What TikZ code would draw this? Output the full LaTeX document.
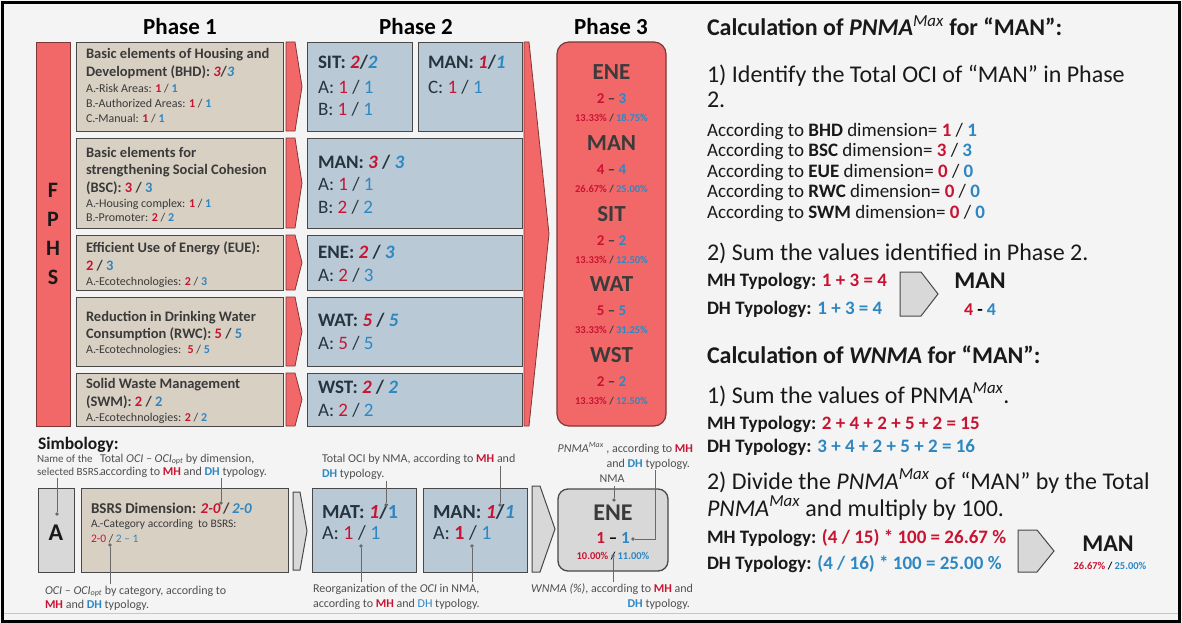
\documentclass[tikz,border=0pt]{standalone}
\usepackage{fontspec}
\setmainfont{Carlito}
\usetikzlibrary{calc}

\definecolor{paper}{RGB}{244,244,244}
\definecolor{redfill}{RGB}{242,104,104}
\definecolor{redline}{RGB}{125,55,55}
\definecolor{tanfill}{RGB}{217,208,196}
\definecolor{bluefill}{RGB}{185,202,214}
\definecolor{boxline}{RGB}{72,72,72}
\definecolor{grayfill}{RGB}{216,216,216}
\definecolor{mhred}{RGB}{200,20,50}
\definecolor{dhblue}{RGB}{45,135,195}
\definecolor{inkone}{RGB}{58,58,58}
\definecolor{inktwo}{RGB}{38,52,62}
\definecolor{inkthree}{RGB}{25,25,25}
\definecolor{leadline}{RGB}{105,105,105}
\definecolor{notegray}{RGB}{80,80,80}

\newcommand{\mhc}[1]{\textcolor{mhred}{#1}}
\newcommand{\dhc}[1]{\textcolor{dhblue}{#1}}
\newcommand{\fsz}[1]{\fontsize{#1}{#1}\selectfont}
\newcommand{\pmax}{\textit{PNMA}\textsuperscript{\normalfont\itshape Max}}
\newcommand{\subpair}[2]{\textbf{\mhc{#1}} / \textbf{\dhc{#2}}}
\newcommand{\plainpair}[2]{\mhc{#1} / \dhc{#2}}
\newcommand{\ocigap}{\textit{OCI – OCI}\textsubscript{\textit{opt}}}

\tikzset{
  tx/.style={inner sep=0pt, outer sep=0pt, anchor=base west},
  txc/.style={inner sep=0pt, outer sep=0pt, anchor=base},
  txe/.style={inner sep=0pt, outer sep=0pt, anchor=base east},
  boxone/.style={draw=boxline, fill=tanfill, line width=1.3pt, anchor=north west, inner sep=0pt},
  boxtwo/.style={draw=boxline, fill=bluefill, line width=1.3pt, anchor=north west, inner sep=0pt},
  boxgray/.style={draw=boxline, fill=grayfill, line width=1.3pt, anchor=north west, inner sep=0pt},
  redshape/.style={draw=redline, fill=redfill, line width=0.8pt},
  grayshape/.style={draw=boxline, fill=grayfill, line width=1pt},
  leader/.style={draw=leadline, line width=0.7pt},
  ldot/.style={circle, fill=leadline, inner sep=0pt, minimum size=3.6pt},
  phasehead/.style={txc, font=\fsz{23}\bfseries, text=black},
  fphs/.style={txc, font=\fsz{22}\bfseries, text=inkthree},
  p1title/.style={tx, font=\fsz{14.5}\bfseries, text=inkone},
  p1item/.style={tx, font=\fsz{12}, text=inkone},
  p2title/.style={tx, font=\fsz{19}\bfseries, text=inktwo},
  p2item/.style={tx, font=\fsz{19}, text=inktwo},
  p3name/.style={txc, font=\fsz{23}\bfseries, text=inkthree!85},
  p3val/.style={txc, font=\fsz{15}\bfseries, text=inkone},
  p3pct/.style={txc, font=\fsz{10.5}\bfseries, text=inkone},
  rhead/.style={tx, font=\fsz{24}\bfseries, text=inkthree},
  rstep/.style={tx, font=\fsz{24}, text=inkthree},
  rline/.style={tx, font=\fsz{19}, text=inkthree},
  rtyp/.style={tx, font=\fsz{19}\bfseries, text=inkthree},
  note/.style={tx, font=\fsz{12}, text=notegray},
  notee/.style={txe, font=\fsz{12}, text=notegray},
}

\begin{document}
\begin{tikzpicture}[x=1pt, y=-1pt]
\useasboundingbox (0,0) rectangle (1182,623);

% paper and frame
\fill[paper] (0,0) rectangle (1182,623);
\draw[gray!45, line width=1pt] (4,613) -- (1178,613);
\draw[black, line width=3pt] (2.5,2.5) rectangle (1179.5,621.5);

% ---------------- phase headings ----------------
\node[phasehead] (hp1) at (180,34.5) {Phase 1};
\node[phasehead] (hp2) at (416,34.5) {Phase 2};
\node[phasehead] (hp3) at (611,34.5) {Phase 3};

% ---------------- FPHS bar ----------------
\node[draw=redline, fill=redfill, line width=0.8pt, anchor=north west, inner sep=0pt,
      minimum width=34pt, minimum height=384pt] (fbar) at (36,42) {};
\node[fphs] (fl1) at (53,197) {F};
\node[fphs] (fl2) at (53,226) {P};
\node[fphs] (fl3) at (53,255) {H};
\node[fphs] (fl4) at (53,284) {S};

% ---------------- phase 1 boxes ----------------
\node[boxone, minimum width=207pt, minimum height=89pt] (bhd) at (76,42) {};
\node[boxone, minimum width=207pt, minimum height=90pt] (bsc) at (76,138) {};
\node[boxone, minimum width=207pt, minimum height=55pt] (eue) at (76,235) {};
\node[boxone, minimum width=207pt, minimum height=69pt] (rwc) at (76,297) {};
\node[boxone, minimum width=207pt, minimum height=53pt] (swm) at (76,373) {};

\node[p1title] (bhdA) at (86,59) {Basic elements of Housing and};
\node[p1title] (bhdB) at (86,77) {Development (BHD): \mhc{\textit{3}}/\dhc{\textit{3}}};
\node[p1item] (bhdC) at (86,93) {A.-Risk Areas: \subpair{1}{1}};
\node[p1item] (bhdD) at (86,108) {B.-Authorized Areas: \subpair{1}{1}};
\node[p1item] (bhdE) at (86,123) {C.-Manual: \subpair{1}{1}};

\node[p1title] (bscA) at (86,157) {Basic elements for};
\node[p1title] (bscB) at (86,174) {strengthening Social Cohesion};
\node[p1title] (bscC) at (86,192) {(BSC): \mhc{3} / \dhc{3}};
\node[p1item] (bscD) at (86,207) {A.-Housing complex: \subpair{1}{1}};
\node[p1item] (bscE) at (86,221) {B.-Promoter: \subpair{2}{2}};

\node[p1title] (eueA) at (86,252) {Efficient Use of Energy (EUE):};
\node[p1title] (eueB) at (86,270) {\mhc{2} / \dhc{3}};
\node[p1item] (eueC) at (86,285) {A.-Ecotechnologies: \subpair{2}{3}};

\node[p1title] (rwcA) at (86,321) {Reduction in Drinking Water};
\node[p1title] (rwcB) at (86,338) {Consumption (RWC): \mhc{5} / \dhc{5}};
\node[p1item] (rwcC) at (86,353) {A.-Ecotechnologies: \ \subpair{5}{5}};

\node[p1title] (swmA) at (86,388) {Solid Waste Management};
\node[p1title] (swmB) at (86,406) {(SWM): \mhc{2} / \dhc{2}};
\node[p1item] (swmC) at (86,421) {A.-Ecotechnologies: \subpair{2}{2}};

% red chevrons between phase 1 and phase 2
\foreach \yt/\yb in {42/131, 138/228, 235/290, 297/366, 373/426}{
  \draw[redshape] (286,\yt) -- (295,\yt) -- (302,{(\yt+\yb)/2}) -- (295,\yb) -- (286,\yb) -- cycle;
}

% ---------------- phase 2 boxes ----------------
\node[boxtwo, minimum width=105pt, minimum height=89pt] (sit) at (307,42) {};
\node[boxtwo, minimum width=104pt, minimum height=89pt] (mana) at (418,42) {};
\node[boxtwo, minimum width=215pt, minimum height=90pt] (manb) at (307,138) {};
\node[boxtwo, minimum width=215pt, minimum height=55pt] (ene) at (307,235) {};
\node[boxtwo, minimum width=215pt, minimum height=69pt] (wat) at (307,297) {};
\node[boxtwo, minimum width=215pt, minimum height=53pt] (wst) at (307,373) {};

\node[p2title] (sitA) at (318,69) {SIT: \mhc{\textit{2}}/\dhc{\textit{2}}};
\node[p2item] (sitB) at (318,94) {A: \plainpair{1}{1}};
\node[p2item] (sitC) at (318,116) {B: \plainpair{1}{1}};
\node[p2title] (manaA) at (428,69) {MAN: \mhc{\textit{1}}/\dhc{\textit{1}}};
\node[p2item] (manaB) at (428,94) {C: \plainpair{1}{1}};
\node[p2title] (manbA) at (318,168) {MAN: \mhc{\textit{3}} / \dhc{\textit{3}}};
\node[p2item] (manbB) at (318,190) {A: \plainpair{1}{1}};
\node[p2item] (manbC) at (318,213) {B: \plainpair{2}{2}};
\node[p2title] (eneA) at (318,258) {ENE: \mhc{\textit{2}} / \dhc{\textit{3}}};
\node[p2item] (eneB) at (318,281) {A: \plainpair{2}{3}};
\node[p2title] (watA) at (318,326) {WAT: \mhc{\textit{5}} / \dhc{\textit{5}}};
\node[p2item] (watB) at (318,349) {A: \plainpair{5}{5}};
\node[p2title] (wstA) at (318,393) {WST: \mhc{\textit{2}} / \dhc{\textit{2}}};
\node[p2item] (wstB) at (318,416) {A: \plainpair{2}{2}};

% large red chevron between phase 2 and phase 3
\draw[redshape] (524,42) -- (529,42) -- (549,234) -- (529,426) -- (524,426) -- cycle;

% ---------------- phase 3 box ----------------
\draw[redshape, line width=1.2pt, rounded corners=12pt] (557,42) rectangle (666,426);
\foreach \nm/\a/\b/\pa/\pb/\c in {ENE/2/3/13.33/18.75/72, MAN/4/4/26.67/25.00/143,
    SIT/2/2/13.33/12.50/214, WAT/5/5/33.33/31.25/284, WST/2/2/13.33/12.50/355}{
  \node[p3name] (n\nm) at (611.5,\c+7.5) {\nm};
  \node[p3val] (v\nm) at (611.5,\c+31) {\mhc{\a} – \dhc{\b}};
  \node[p3pct] (p\nm) at (611.5,\c+49.5) {\mhc{\pa\%} / \dhc{\pb\%}};
}

% ---------------- right panel: PNMA ----------------
\node[rhead] (ra) at (707,36) {Calculation of \textit{PNMA}\textsuperscript{\normalfont\itshape Max} for “MAN”:};
\node[rstep] (rb) at (707,83) {1) Identify the Total OCI of “MAN” in Phase};
\node[rstep] (rc) at (707,108) {2.};
\node[rline] (rd1) at (707,136) {According to \textbf{BHD} dimension= \subpair{1}{1}};
\node[rline] (rd2) at (707,156.5) {According to \textbf{BSC} dimension= \subpair{3}{3}};
\node[rline] (rd3) at (707,177) {According to \textbf{EUE} dimension= \subpair{0}{0}};
\node[rline] (rd4) at (707,197.5) {According to \textbf{RWC} dimension= \subpair{0}{0}};
\node[rline] (rd5) at (707,218) {According to \textbf{SWM} dimension= \subpair{0}{0}};
\node[rstep] (re) at (707,260) {2) Sum the values identified in Phase 2.};
\node[rtyp] (rf1) at (707,286) {MH Typology: \mhc{1 + 3 = 4}};
\node[rtyp] (rf2) at (707,314) {DH Typology: \dhc{1 + 3 = 4}};
\draw[grayshape] (900,272) -- (921,272) -- (938,294) -- (921,316) -- (900,316) -- cycle;
\node[txc, font=\fsz{24}\bfseries, text=inkthree] (rg1) at (980,288) {MAN};
\node[txc, font=\fsz{18}\bfseries] (rg2) at (980,315) {\mhc{4} - \dhc{4}};

% ---------------- right panel: WNMA ----------------
\node[rhead] (rh) at (707,363) {Calculation of \textit{WNMA} for “MAN”:};
\node[rstep] (ri) at (707,403) {1) Sum the values of PNMA\textsuperscript{\itshape Max}.};
\node[rtyp] (rj1) at (707,429) {MH Typology: \mhc{2 + 4 + 2 + 5 + 2 = 15}};
\node[rtyp] (rj2) at (707,452) {DH Typology: \dhc{3 + 4 + 2 + 5 + 2 = 16}};
\node[rstep] (rk1) at (707,489) {2) Divide the \pmax\ of “MAN” by the Total};
\node[rstep] (rk2) at (707,516) {\pmax\ and multiply by 100.};
\node[rtyp] (rl1) at (707,543) {MH Typology: \mhc{(4 / 15) * 100 = 26.67 \%}};
\node[rtyp] (rl2) at (707,569) {DH Typology: \dhc{(4 / 16) * 100 = 25.00 \%}};
\draw[grayshape] (1018,530) -- (1037,530) -- (1054,551) -- (1037,572) -- (1018,572) -- cycle;
\node[txc, font=\fsz{24}\bfseries, text=inkthree] (rm1) at (1108,551) {MAN};
\node[txc, font=\fsz{10.5}\bfseries] (rm2) at (1110,569) {\mhc{26.67\%} / \dhc{25.00\%}};

% ---------------- symbology ----------------
\node[tx, font=\fsz{17.5}\bfseries, text=inkthree] (sy) at (38,449) {Simbology:};
\node[note, font=\fsz{11}] (sn1) at (37,462) {Name of the};
\node[note, font=\fsz{11}] (sn2) at (37,475) {selected BSRS.};
\node[note] (sn3) at (100,462) {Total \ocigap\ by dimension,};
\node[note] (sn4) at (100,475) {according to \mhc{\textbf{MH}} and \dhc{\textbf{DH}} typology.};

\node[boxgray, minimum width=36pt, minimum height=84pt] (sbA) at (38,488) {};
\node[txc, font=\fsz{24}\bfseries, text=inkthree] (sbAl) at (56,540) {A};
\node[boxone, minimum width=207pt, minimum height=84pt] (sbD) at (81,488) {};
\node[tx, font=\fsz{15}\bfseries, text=inkone] (sbD1) at (91,513) {BSRS Dimension: \mhc{\textit{2-0}}\,/\,\dhc{\textit{2-0}}};
\node[tx, font=\fsz{11.5}, text=inkone] (sbD2) at (91,527) {A.-Category according \ to BSRS:};
\node[tx, font=\fsz{11.5}, text=inkone] (sbD3) at (91,542) {\mhc{2-0} / \dhc{2 – 1}};
\node[note] (sn5) at (45,594) {\ocigap\ by category, according to};
\node[note] (sn6) at (45,608) {\mhc{\textbf{MH}} and \dhc{\textbf{DH}} typology.};

\draw[grayshape] (293,492) -- (300,492) -- (307,531) -- (300,570) -- (293,570) -- cycle;

\node[boxtwo, minimum width=104pt, minimum height=84pt] (sbM) at (312,488) {};
\node[p2title, font=\fsz{20}\bfseries] (sbM1) at (322,518) {MAT: \mhc{\textit{1}}/\dhc{1}};
\node[p2item, font=\fsz{20}] (sbM2) at (322,539) {A: \plainpair{1}{1}};
\node[boxtwo, minimum width=104pt, minimum height=84pt] (sbN) at (423,488) {};
\node[p2title, font=\fsz{20}\bfseries] (sbN1) at (433,518) {MAN: \mhc{\textit{1}}/\dhc{\textit{1}}};
\node[p2item, font=\fsz{20}] (sbN2) at (433,539) {A: \textbf{\mhc{1}} / \dhc{1}};
\node[note] (sn7) at (322,462) {Total OCI by NMA, according to \mhc{\textbf{MH}} and};
\node[note] (sn8) at (322,477) {\dhc{\textbf{DH}} typology.};
\node[note] (sn9) at (313,592) {Reorganization of the \textit{OCI} in NMA,};
\node[note] (sn10) at (313,607) {according to \mhc{\textbf{MH}} and \dhc{DH} typology.};

\draw[grayshape] (532,486) -- (540,486) -- (555,529) -- (540,572) -- (532,572) -- cycle;

\draw[draw=boxline, fill=grayfill, line width=1.3pt, rounded corners=10pt] (558,489) rectangle (668,571);
\node[txc, font=\fsz{24}\bfseries, text=inkthree!85] (sbE1) at (613,520) {ENE};
\node[txc, font=\fsz{17}\bfseries] (sbE2) at (613,543) {\mhc{1} – \dhc{1}};
\node[txc, font=\fsz{10.5}\bfseries] (sbE3) at (613,559) {\mhc{10.00\%} / \dhc{11.00\%}};
\node[notee] (sn11) at (693,452) {\pmax\ , according to \mhc{\textbf{MH}}};
\node[notee] (sn12) at (690,467) {and \dhc{\textbf{DH}} typology.};
\node[txc, font=\fsz{12}, text=notegray] (sn13) at (612,482) {NMA};
\node[notee] (sn14) at (693,592) {\textit{WNMA (\%)}, according to \mhc{\textbf{MH}} and};
\node[notee] (sn15) at (690,607) {\dhc{\textbf{DH}} typology.};

% leader lines of the symbology
\coordinate (qA) at (57,478);
\node[ldot] (dA) at (57,514) {};
\draw[leader] (qA) -- (dA);
\coordinate (qD) at (221,478);
\node[ldot] (dD) at (221,503) {};
\draw[leader] (qD) -- (dD);
\node[ldot] (dC) at (110,545) {};
\coordinate (qC) at (110,584);
\draw[leader] (dC) -- (qC);
\coordinate (qM) at (386,481);
\node[ldot] (dM) at (386,505) {};
\draw[leader] (qM) -- (dM);
\coordinate (qN) at (500,466);
\node[ldot] (dN) at (500,505) {};
\draw[leader] (qN) -- (dN);
\node[ldot] (dMa) at (361,546) {};
\coordinate (qMa) at (361,582);
\draw[leader] (dMa) -- (qMa);
\node[ldot] (dNa) at (472,546) {};
\coordinate (qNa) at (472,582);
\draw[leader] (dNa) -- (qNa);
\coordinate (qE) at (614,486);
\node[ldot] (dE) at (614,500) {};
\draw[leader] (qE) -- (dE);
\node[ldot] (dV) at (633,539) {};
\coordinate (qV) at (655,470);
\draw[leader] (dV) -- (qV |- dV) -- (qV);
\node[ldot] (dP) at (613,556) {};
\coordinate (qP) at (613,582);
\draw[leader] (dP) -- (qP);
\end{tikzpicture}
\end{document}
